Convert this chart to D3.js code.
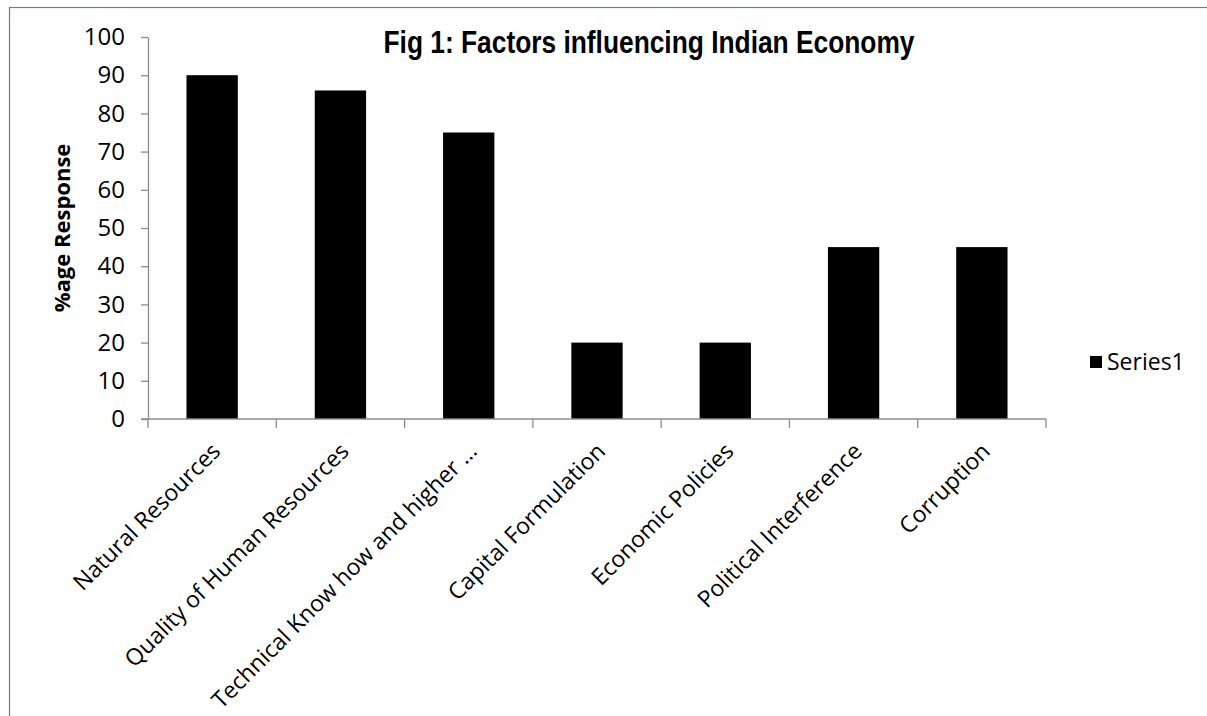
<!DOCTYPE html>
<html>
<head>
<meta charset="utf-8">
<script src="https://cdn.jsdelivr.net/npm/d3@7"></script>
<style>
  html, body { margin: 0; padding: 0; background: #fff; }
  svg { display: block; }
</style>
</head>
<body>
<svg id="chart" width="1207" height="716"></svg>
<script>
// Survey responses per factor (percent)
const categories = [
  "Natural Resources",
  "Quality of Human Resources",
  "Technical Know how and higher \u2026",
  "Capital Formulation",
  "Economic Policies",
  "Political Interference",
  "Corruption"
];
const series1 = [90, 86, 75, 20, 20, 45, 45];
const yTicks = [0, 10, 20, 30, 40, 50, 60, 70, 80, 90, 100];
const seriesName = "Series1";
const titleText = "Fig 1: Factors influencing Indian Economy";
const yAxisTitle = "%age Response";

const svg = d3.select("#chart");
const axisColor = "#8c8c8c";
const labelFont = "'Open Sans', 'Liberation Sans', sans-serif";

// Chart frame
svg.append("rect")
  .attr("x", 9.5).attr("y", 7.5)
  .attr("width", 1300).attr("height", 800)
  .attr("fill", "none")
  .attr("stroke", "#4f81bd")
  .attr("stroke-width", 1.2);

const plot = { left: 148, right: 1046, top: 37, bottom: 419 };

const x = d3.scaleBand()
  .domain(categories)
  .range([plot.left, plot.right])
  .paddingInner(0.6)
  .paddingOuter(0.3);

const y = d3.scaleLinear()
  .domain([0, 100])
  .range([plot.bottom, plot.top]);

// Bars
svg.append("g")
  .selectAll("rect")
  .data(series1)
  .join("rect")
  .attr("x", (d, i) => x(categories[i]))
  .attr("y", d => y(d))
  .attr("width", x.bandwidth())
  .attr("height", d => y(0) - y(d))
  .attr("fill", "#000");

// Y axis
const yAxis = svg.append("g")
  .attr("transform", `translate(${plot.left},0)`)
  .call(d3.axisLeft(y).tickValues(yTicks).tickSize(7).tickSizeOuter(0).tickPadding(16));
yAxis.select(".domain").attr("stroke", axisColor).attr("stroke-width", 1.3);
yAxis.selectAll(".tick line").attr("stroke", axisColor).attr("stroke-width", 1.3);
yAxis.selectAll(".tick text")
  .attr("fill", "#000")
  .style("font-family", labelFont)
  .style("font-size", "24px");

// X axis: ticks on category boundaries
const xEdges = d3.scaleLinear().domain([0, categories.length]).range([plot.left, plot.right]);
const xAxis = svg.append("g").attr("transform", `translate(0,${plot.bottom})`);
xAxis.append("line")
  .attr("x1", plot.left - 7).attr("x2", plot.right)
  .attr("stroke", axisColor).attr("stroke-width", 1.3);
xAxis.selectAll("line.edge")
  .data(d3.range(categories.length + 1))
  .join("line")
  .attr("class", "edge")
  .attr("x1", i => xEdges(i)).attr("x2", i => xEdges(i))
  .attr("y1", 0).attr("y2", 9)
  .attr("stroke", axisColor).attr("stroke-width", 1.3);

// Rotated category labels
xAxis.selectAll("text.cat")
  .data(categories)
  .join("text")
  .attr("class", "cat")
  .attr("transform", d => `translate(${x(d) + x.bandwidth() / 2 + 4},${28}) rotate(-45)`)
  .attr("text-anchor", "end")
  .attr("dy", "0.35em")
  .style("font-family", labelFont)
  .style("font-size", "23px")
  .attr("fill", "#000")
  .text(d => d);

// Title (condensed bold)
svg.append("text")
  .attr("x", 649).attr("y", 53)
  .attr("text-anchor", "middle")
  .attr("textLength", 531)
  .attr("lengthAdjust", "spacingAndGlyphs")
  .style("font-family", "'Liberation Sans Narrow', 'Arial Narrow', 'Liberation Sans', sans-serif")
  .style("font-weight", "bold")
  .style("font-size", "31px")
  .attr("fill", "#000")
  .text(titleText);

// Y axis title
svg.append("text")
  .attr("transform", `translate(70,${(plot.top + plot.bottom) / 2}) rotate(-90)`)
  .attr("text-anchor", "middle")
  .style("font-family", labelFont)
  .style("font-weight", "bold")
  .style("font-size", "22px")
  .attr("fill", "#000")
  .text(yAxisTitle);

// Legend
const legend = svg.append("g").attr("transform", "translate(1090,356)");
legend.append("rect").attr("width", 12).attr("height", 12).attr("fill", "#000");
legend.append("text")
  .attr("x", 17).attr("y", 6)
  .attr("dy", "0.35em")
  .style("font-family", labelFont)
  .style("font-size", "23px")
  .attr("fill", "#000")
  .text(seriesName);
</script>
</body>
</html>
